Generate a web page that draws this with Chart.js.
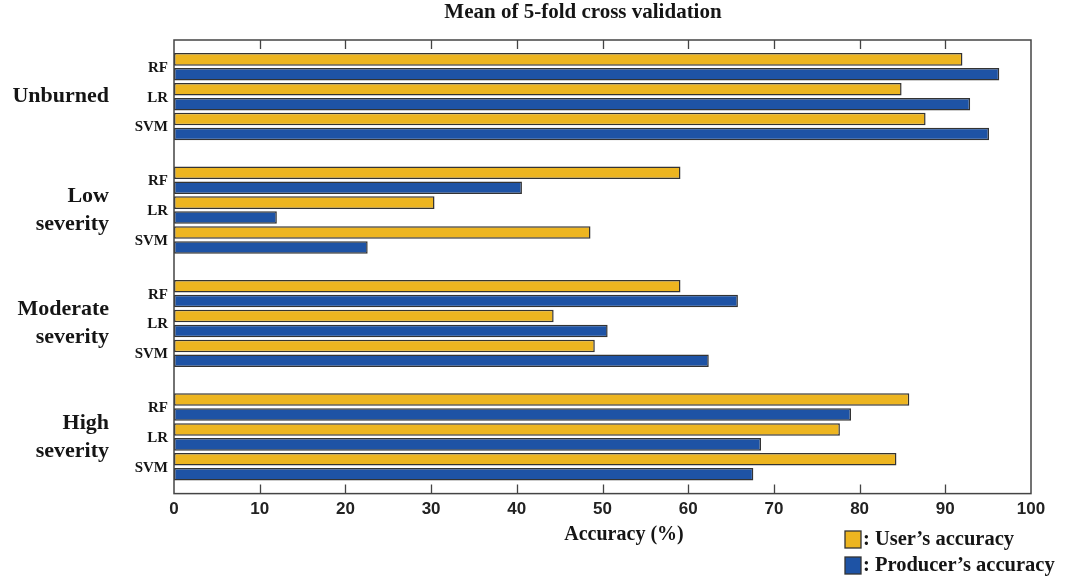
<!DOCTYPE html>
<html>
<head>
<meta charset="utf-8">
<script src="https://cdn.jsdelivr.net/npm/chart.js@4.4.1/dist/chart.umd.min.js"></script>
<style>
	html, body { margin: 0; padding: 0; background: #fff; }
	#wrap { width: 1069px; height: 581px; }
</style>
</head>
<body>
<div id="wrap"><canvas id="myChart" width="1069" height="581"></canvas></div>
<script>
// Severity classes (y categories) and classifiers
const groups = ["Unburned", ["Low", "severity"], ["Moderate", "severity"], ["High", "severity"]];
const models = ["RF", "LR", "SVM"];

// Mean accuracy (%) per severity class
const rfUser = [92.0, 59.1, 59.1, 85.8];
const rfProducer = [96.3, 40.6, 65.8, 79.0];
const lrUser = [84.9, 30.4, 44.3, 77.7];
const lrProducer = [92.9, 12.0, 50.6, 68.5];
const svmUser = [87.7, 48.6, 49.1, 84.3];
const svmProducer = [95.1, 22.6, 62.4, 67.6];

const xTicks = [0, 10, 20, 30, 40, 50, 60, 70, 80, 90, 100];

const YELLOW = "rgb(237, 181, 32)";
const BLUE = "rgb(30, 83, 165)";
const EDGE = "#333";
const SERIF = "'Liberation Serif', 'Times New Roman', serif";
const SANS = "'Liberation Sans', Arial, sans-serif";

function barSet(label, data, color) {
	return {
		label: label,
		data: data,
		backgroundColor: color,
		borderColor: EDGE,
		borderWidth: 1.5,
		borderSkipped: false,
		categoryPercentage: 0.79,
		barPercentage: 0.84,
	};
}

const data = {
	labels: groups,
	datasets: [
		barSet("RF user", rfUser, YELLOW),
		barSet("RF producer", rfProducer, BLUE),
		barSet("LR user", lrUser, YELLOW),
		barSet("LR producer", lrProducer, BLUE),
		barSet("SVM user", svmUser, YELLOW),
		barSet("SVM producer", svmProducer, BLUE),
	],
};

// Frame, inward ticks, model labels, title, axis title and legend
const decorations = {
	id: "decorations",
	afterDraw(chart) {
		const ctx = chart.ctx;
		const area = chart.chartArea;
		const xs = chart.scales.x;
		ctx.save();

		// box around plot
		ctx.strokeStyle = "#444";
		ctx.lineWidth = 1.5;
		ctx.strokeRect(area.left, area.top, area.right - area.left, area.bottom - area.top);

		// tick marks pointing inward at top and bottom
		ctx.lineWidth = 1.3;
		xTicks.forEach((v) => {
			if (v === 0 || v === 100) return;
			const px = Math.round(xs.getPixelForValue(v)) + 0.5;
			ctx.beginPath();
			ctx.moveTo(px, area.top);
			ctx.lineTo(px, area.top + 9);
			ctx.moveTo(px, area.bottom);
			ctx.lineTo(px, area.bottom - 9);
			ctx.stroke();
		});

		// RF / LR / SVM labels between each pair of bars
		ctx.fillStyle = "#151515";
		ctx.font = "bold 15px " + SERIF;
		ctx.textAlign = "right";
		ctx.textBaseline = "middle";
		models.forEach((m, mi) => {
			const userMeta = chart.getDatasetMeta(mi * 2);
			const prodMeta = chart.getDatasetMeta(mi * 2 + 1);
			groups.forEach((g, gi) => {
				const y = (userMeta.data[gi].y + prodMeta.data[gi].y) / 2 + 1;
				ctx.fillText(m, area.left - 6, y);
			});
		});

		// title
		ctx.textAlign = "center";
		ctx.font = "bold 21px " + SERIF;
		ctx.fillText("Mean of 5-fold cross validation", 583, 13);

		// x axis title
		ctx.font = "bold 20px " + SERIF;
		ctx.fillText("Accuracy (%)", 624, 535);

		// legend
		const items = [
			{ text: ": User\u2019s accuracy", color: YELLOW, y: 531 },
			{ text: ": Producer\u2019s accuracy", color: BLUE, y: 557 },
		];
		ctx.textAlign = "left";
		ctx.font = "bold 20.5px " + SERIF;
		items.forEach((it) => {
			ctx.fillStyle = it.color;
			ctx.fillRect(845, it.y, 16, 17);
			ctx.strokeStyle = EDGE;
			ctx.lineWidth = 1.3;
			ctx.strokeRect(845, it.y, 16, 17);
			ctx.fillStyle = "#151515";
			ctx.fillText(it.text, 863, it.y + 9);
		});

		ctx.restore();
	},
};

const chartCanvas = document.getElementById("myChart").getContext("2d");

const chart = new Chart(chartCanvas, {
	type: "bar",
	data: data,
	plugins: [decorations],
	options: {
		indexAxis: "y",
		responsive: false,
		animation: false,
		layout: {
			padding: { top: 40, right: 38, bottom: 55, left: 0 },
		},
		plugins: {
			legend: { display: false },
			title: { display: false },
			tooltip: { enabled: false },
		},
		scales: {
			x: {
				type: "linear",
				min: 0,
				max: 100,
				afterBuildTicks: (scale) => {
					scale.ticks = xTicks.map((v) => ({ value: v }));
				},
				grid: { display: false, drawTicks: false },
				border: { display: false },
				ticks: {
					padding: 6,
					maxRotation: 0,
					minRotation: 0,
					color: "#222",
					font: { family: SANS, size: 17, weight: "bold" },
				},
			},
			y: {
				type: "category",
				afterFit: (scale) => {
					scale.width = 174;
					// the big label padding should not push the plot down
					scale.paddingTop = 0;
					scale.paddingBottom = 0;
				},
				grid: { display: false, drawTicks: false },
				border: { display: false },
				ticks: {
					padding: 65,
					color: "#151515",
					font: { family: SERIF, size: 22, weight: "bold", lineHeight: 1.27 },
				},
			},
		},
	},
});
</script>
</body>
</html>
